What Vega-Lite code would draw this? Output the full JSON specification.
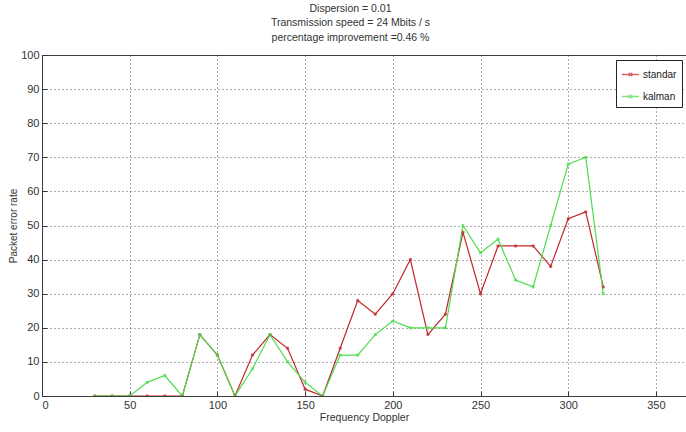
{
  "$schema": "https://vega.github.io/schema/vega-lite/v6.json",
  "width": 649,
  "height": 341,
  "padding": {"left": 42, "top": 55, "right": 0, "bottom": 36},
  "autosize": {"type": "none"},
  "background": "white",
  "config": {
    "font": "Liberation Sans, sans-serif",
    "view": {"stroke": "#444", "strokeWidth": 1}
  },
  "title": {
    "text": ["Dispersion = 0.01", "Transmission speed = 24 Mbits / s", "percentage improvement =0.46  %"],
    "fontSize": 10.5,
    "fontWeight": "normal",
    "color": "#333",
    "lineHeight": 14.5,
    "anchor": "middle",
    "dx": -16,
    "offset": 6,
    "font": "Liberation Sans, sans-serif"
  },
  "data": {
    "values": [
      {"f": 30, "s": "standar", "v": 0}, {"f": 40, "s": "standar", "v": 0}, {"f": 50, "s": "standar", "v": 0},
      {"f": 60, "s": "standar", "v": 0}, {"f": 70, "s": "standar", "v": 0}, {"f": 80, "s": "standar", "v": 0},
      {"f": 90, "s": "standar", "v": 18}, {"f": 100, "s": "standar", "v": 12}, {"f": 110, "s": "standar", "v": 0},
      {"f": 120, "s": "standar", "v": 12}, {"f": 130, "s": "standar", "v": 18}, {"f": 140, "s": "standar", "v": 14},
      {"f": 150, "s": "standar", "v": 2}, {"f": 160, "s": "standar", "v": 0}, {"f": 170, "s": "standar", "v": 14},
      {"f": 180, "s": "standar", "v": 28}, {"f": 190, "s": "standar", "v": 24}, {"f": 200, "s": "standar", "v": 30},
      {"f": 210, "s": "standar", "v": 40}, {"f": 220, "s": "standar", "v": 18}, {"f": 230, "s": "standar", "v": 24},
      {"f": 240, "s": "standar", "v": 48}, {"f": 250, "s": "standar", "v": 30}, {"f": 260, "s": "standar", "v": 44},
      {"f": 270, "s": "standar", "v": 44}, {"f": 280, "s": "standar", "v": 44}, {"f": 290, "s": "standar", "v": 38},
      {"f": 300, "s": "standar", "v": 52}, {"f": 310, "s": "standar", "v": 54}, {"f": 320, "s": "standar", "v": 32},
      {"f": 30, "s": "kalman", "v": 0}, {"f": 40, "s": "kalman", "v": 0}, {"f": 50, "s": "kalman", "v": 0},
      {"f": 60, "s": "kalman", "v": 4}, {"f": 70, "s": "kalman", "v": 6}, {"f": 80, "s": "kalman", "v": 0},
      {"f": 90, "s": "kalman", "v": 18}, {"f": 100, "s": "kalman", "v": 12}, {"f": 110, "s": "kalman", "v": 0},
      {"f": 120, "s": "kalman", "v": 8}, {"f": 130, "s": "kalman", "v": 18}, {"f": 140, "s": "kalman", "v": 10},
      {"f": 150, "s": "kalman", "v": 4}, {"f": 160, "s": "kalman", "v": 0}, {"f": 170, "s": "kalman", "v": 12},
      {"f": 180, "s": "kalman", "v": 12}, {"f": 190, "s": "kalman", "v": 18}, {"f": 200, "s": "kalman", "v": 22},
      {"f": 210, "s": "kalman", "v": 20}, {"f": 220, "s": "kalman", "v": 20}, {"f": 230, "s": "kalman", "v": 20},
      {"f": 240, "s": "kalman", "v": 50}, {"f": 250, "s": "kalman", "v": 42}, {"f": 260, "s": "kalman", "v": 46},
      {"f": 270, "s": "kalman", "v": 34}, {"f": 280, "s": "kalman", "v": 32}, {"f": 290, "s": "kalman", "v": 50},
      {"f": 300, "s": "kalman", "v": 68}, {"f": 310, "s": "kalman", "v": 70}, {"f": 320, "s": "kalman", "v": 30}
    ]
  },
  "encoding": {
    "x": {
      "field": "f", "type": "quantitative",
      "scale": {"domain": [0, 370], "nice": false, "zero": false},
      "axis": {
        "title": "Frequency Doppler", "values": [0, 50, 100, 150, 200, 250, 300, 350],
        "grid": true, "gridDash": [1, 3], "gridColor": "#222", "gridOpacity": 0.75,
        "tickSize": -5, "tickColor": "#333", "labelPadding": 8, "domain": false,
        "labelFontSize": 11, "labelColor": "#333", "titleFontSize": 10.5, "titleFontWeight": "normal",
        "titleColor": "#333", "titlePadding": 2, "titleX": 322
      }
    },
    "y": {
      "field": "v", "type": "quantitative",
      "scale": {"domain": [0, 100], "nice": false},
      "axis": {
        "title": "Packet error rate", "values": [0, 10, 20, 30, 40, 50, 60, 70, 80, 90, 100],
        "grid": true, "gridDash": [1, 3], "gridColor": "#222", "gridOpacity": 0.75,
        "tickSize": -5, "tickColor": "#333", "labelPadding": 8, "domain": false,
        "labelFontSize": 11, "labelColor": "#333", "titleFontSize": 10, "titleFontWeight": "normal",
        "titleColor": "#333", "titleX": -24
      }
    },
    "color": {
      "field": "s", "type": "nominal",
      "scale": {"domain": ["standar", "kalman"], "range": ["#c0282e", "#4fdc4f"]},
      "legend": {
        "title": null, "orient": "none", "legendX": 574, "legendY": 5,
        "fillColor": "white", "strokeColor": "#222", "padding": 5,
        "symbolType": "M-1,0H1M-0.2,-0.2L0.2,0.2M-0.2,0.2L0.2,-0.2",
        "symbolSize": 300, "symbolStrokeWidth": 1.3, "labelFontSize": 10, "labelColor": "#222",
        "rowPadding": 7, "labelOffset": 3
      }
    }
  },
  "layer": [
    {"mark": {"type": "line", "strokeWidth": 1.2, "clip": true}, "encoding": {"detail": {"field": "s"}}},
    {"mark": {"type": "point", "shape": "circle", "filled": true, "size": 12, "clip": true}, "transform": [{"filter": "datum.s === 'standar'"}]},
    {"mark": {"type": "point", "shape": "cross", "angle": 45, "filled": true, "size": 14, "clip": true}, "transform": [{"filter": "datum.s === 'kalman'"}]}
  ]
}
